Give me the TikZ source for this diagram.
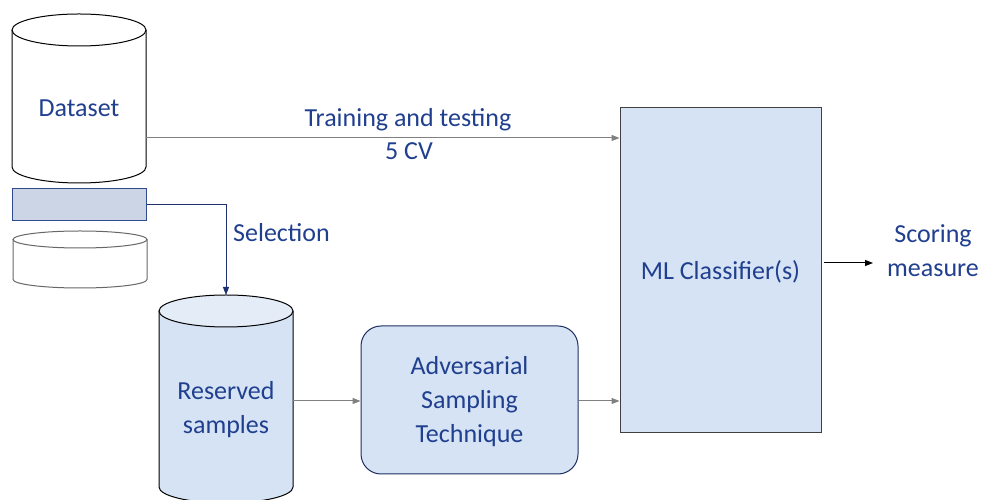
\documentclass[tikz,border=0pt]{standalone}
\usepackage{fontspec}
\setmainfont{Carlito}
\usetikzlibrary{arrows.meta}
\definecolor{txtblue}{HTML}{203F8E}
\definecolor{boxfill}{HTML}{D5E3F4}
\definecolor{topfill}{HTML}{E4ECF8}
\definecolor{rectfill}{HTML}{CCD5E6}
\definecolor{rectline}{HTML}{2E4C8C}
\definecolor{navy}{HTML}{1F2F5F}
\definecolor{lnGray}{HTML}{808080}
\definecolor{selblue}{HTML}{1F3070}
\tikzset{
  lbl/.style={text=txtblue, font=\fontsize{26}{34}\selectfont, align=center, inner sep=0pt},
  arr/.style={-{Triangle[length=8pt,width=6pt]}},
  conn/.style={draw=lnGray, line width=1pt, arr},
}
\begin{document}
\begin{tikzpicture}[x=1pt,y=1pt]
\useasboundingbox (0,0) rectangle (984,500);
% Dataset cylinder
\draw[black, line width=1pt, fill=white] (12,470) -- (12,333) arc (180:360:67 and 16) -- (146,470);
\draw[black, line width=1pt, fill=white] (79,470) ellipse (67 and 16);
\node[lbl] (ds) at (79,392) {Dataset};
\coordinate (dsR) at (146,362);
% Selection rectangle
\node[draw=rectline, fill=rectfill, line width=1pt, minimum width=134pt, minimum height=32pt, inner sep=0pt] (sel) at (79,295) {};
% small cylinder
\draw[lnGray!80!black, line width=1pt, fill=white] (13,260.5) -- (13,220.5) arc (180:360:67 and 8.5) -- (147,260.5);
\draw[lnGray!80!black, line width=1pt, fill=white] (80,260.5) ellipse (67 and 8.5);
% Reserved cylinder
\draw[black, line width=1pt, fill=boxfill] (159,189) -- (159,13) arc (180:360:67 and 16) -- (293,189);
\draw[black, line width=1pt, fill=topfill] (226,189) ellipse (67 and 16);
\coordinate (resT) at (226,205);
\coordinate (resR) at (293,99);
\node[lbl] (res) at (226,90) {Reserved\\samples};
% Adversarial box
\node[draw=navy, fill=boxfill, line width=1pt, rounded corners=20pt, minimum width=217pt, minimum height=148pt, inner sep=0pt] (adv) at (469.5,100) {};
\node[lbl] (advt) at (469.5,98) {Adversarial\\Sampling\\Technique};
% ML box
\node[draw=black!75, fill=boxfill, line width=1pt, minimum width=201pt, minimum height=325pt, inner sep=0pt] (ml) at (720.5,229.5) {};
\node[lbl] (mlt) at (720.5,228) {ML Classifier(s)};
% Scoring
\node[lbl] (score) at (933,249) {Scoring\\measure};
\coordinate (scoreIn) at (873,237);
% connectors
\draw[conn] (dsR) -- (ml.west |- dsR);
\node[lbl, anchor=base] (tt) at (408,373) {Training and testing};
\node[lbl, anchor=base] (cv) at (409,340) {5 CV};
\draw[draw=selblue, line width=1pt, arr] (sel.east) -- (226,295) -- (resT);
\node[lbl, anchor=base west] (selt) at (233,258) {Selection};
\draw[conn] (resR) -- (adv.west |- resR);
\draw[conn] (adv.east |- resR) -- (ml.west |- resR);
\draw[draw=black, line width=1pt, arr] (ml.east |- scoreIn) ++(2,0) -- (scoreIn);
\end{tikzpicture}
\end{document}
